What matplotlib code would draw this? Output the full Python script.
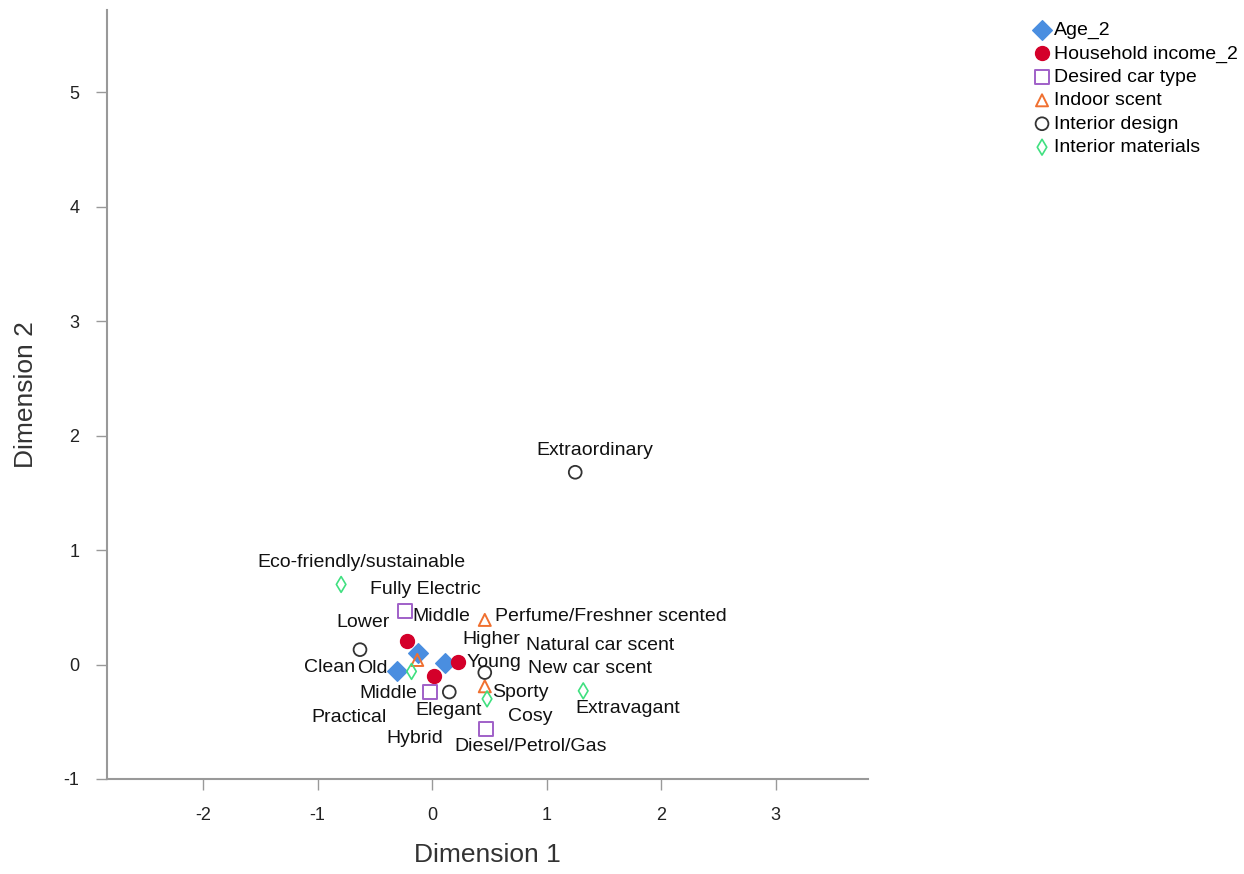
import matplotlib
matplotlib.use('Agg')
import matplotlib.pyplot as plt

plt.rcParams['font.family'] = ['Liberation Sans', 'DejaVu Sans']
plt.rcParams['axes.unicode_minus'] = False

# 各変数のカテゴリ座標 (Dimension 1, Dimension 2)
age_labels = ['Young', 'Middle', 'Old']
age_x = [0.11, -0.125, -0.31]
age_y = [0.015, 0.10, -0.06]

income_labels = ['Lower', 'Higher', 'Middle']
income_x = [-0.22, 0.225, 0.02]
income_y = [0.21, 0.02, -0.10]

car_labels = ['Fully Electric', 'Hybrid', 'Diesel/Petrol/Gas']
car_x = [-0.235, -0.02, 0.47]
car_y = [0.47, -0.24, -0.56]

scent_labels = ['Perfume/Freshner scented', 'Natural car scent', 'New car scent']
scent_x = [0.46, -0.13, 0.46]
scent_y = [0.39, 0.04, -0.19]

design_labels = ['Extraordinary', 'Clean', 'Elegant', 'Sporty']
design_x = [1.25, -0.63, 0.15, 0.46]
design_y = [1.68, 0.13, -0.24, -0.07]

material_labels = ['Eco-friendly/sustainable', 'Practical', 'Cosy', 'Extravagant']
material_x = [-0.795, -0.18, 0.48, 1.32]
material_y = [0.70, -0.06, -0.30, -0.23]

# ラベルの表示位置（データ座標）
label_pos = {
	'Young': (0.54, 0.02), 'Middle_age': (-0.38, -0.25), 'Old': (-0.52, -0.035),
	'Lower': (-0.60, 0.37), 'Higher': (0.52, 0.22), 'Middle_inc': (0.08, 0.42),
	'Fully Electric': (-0.06, 0.66), 'Hybrid': (-0.15, -0.65),
	'Diesel/Petrol/Gas': (0.86, -0.72),
	'Perfume/Freshner scented': (1.56, 0.42), 'Natural car scent': (1.47, 0.17),
	'New car scent': (1.38, -0.035),
	'Extraordinary': (1.42, 1.87), 'Clean': (-0.90, -0.03),
	'Elegant': (0.14, -0.40), 'Sporty': (0.77, -0.24),
	'Eco-friendly/sustainable': (-0.62, 0.89), 'Practical': (-0.73, -0.46),
	'Cosy': (0.86, -0.45), 'Extravagant': (1.71, -0.38),
}

fig = plt.figure(figsize=(12.44, 8.74), dpi=100)
ax = fig.add_axes([0.086, 0.1087, 0.612, 0.88])

ax.scatter(age_x, age_y, marker='D', s=100, color='#4a8ee0', label='Age_2', zorder=3)
ax.scatter(income_x, income_y, marker='o', s=100, color='#d4002a', label='Household income_2', zorder=3)
ax.scatter(car_x, car_y, marker='s', s=100, facecolors='none', edgecolors='#a060c8',
		   linewidths=1.4, label='Desired car type', zorder=3)
ax.scatter(scent_x, scent_y, marker='^', s=75, facecolors='none', edgecolors='#f07030',
		   linewidths=1.4, label='Indoor scent', zorder=3)
ax.scatter(design_x, design_y, marker='o', s=85, facecolors='none', edgecolors='#333333',
		   linewidths=1.3, label='Interior design', zorder=3)
ax.scatter(material_x, material_y, marker='d', s=65, facecolors='none', edgecolors='#40e080',
		   linewidths=1.2, label='Interior materials', zorder=3)

# ラベル描画
keys = ['Young', 'Middle_age', 'Old', 'Lower', 'Higher', 'Middle_inc'] + car_labels \
	+ scent_labels + design_labels + material_labels
for k in keys:
	tx, ty = label_pos[k]
	ax.text(tx, ty, k.split('_')[0], fontsize=14, color='#111111',
			ha='center', va='center', zorder=4)

ax.set_xlim(-2.84, 3.81)
ax.set_ylim(-1, 5.72)
ax.set_xticks([-2, -1, 0, 1, 2, 3])
ax.set_yticks([-1, 0, 1, 2, 3, 4, 5])

for side in ['top', 'right']:
	ax.spines[side].set_visible(False)
for side in ['left', 'bottom']:
	ax.spines[side].set_color('#999999')
	ax.spines[side].set_linewidth(1.5)
ax.tick_params(direction='out', length=8, width=1, color='#999999',
			   labelsize=13, labelcolor='#222222', pad=12)

ax.set_xlabel('Dimension 1', fontsize=19, color='#333333', labelpad=14)
ax.set_ylabel('Dimension 2', fontsize=19, color='#333333', labelpad=18)

fig.legend(loc='upper left', bbox_to_anchor=(0.822, 0.987), frameon=False,
		   fontsize=14, handletextpad=0.1, labelspacing=0.3, borderpad=0,
		   handlelength=1.0, markerscale=1.0)

fig.savefig('out.png', dpi=100, facecolor='white')
